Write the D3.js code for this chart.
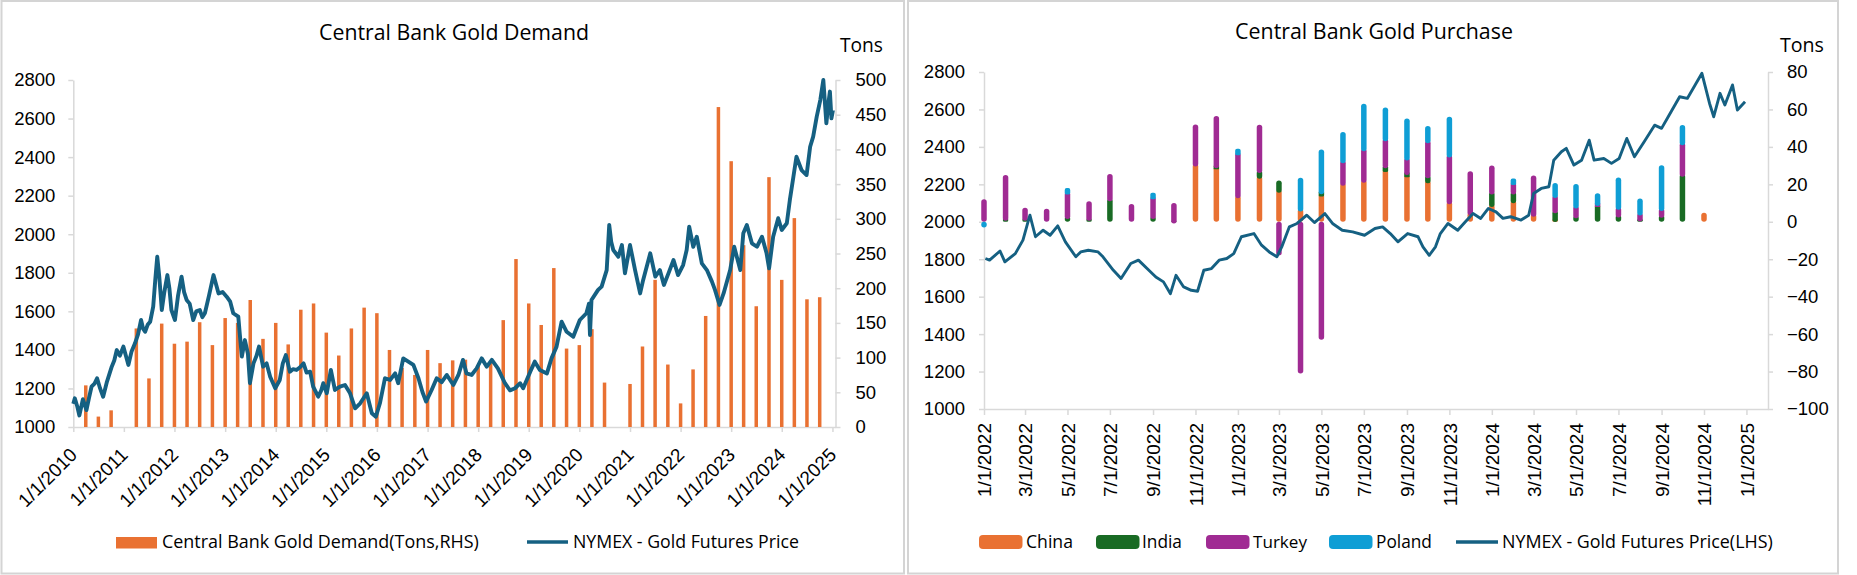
<!DOCTYPE html>
<html><head><meta charset="utf-8">
<script src="https://cdn.jsdelivr.net/npm/d3@7"></script>
<style>body{margin:0;background:#fff}svg{display:block}</style>
</head><body>
<svg id="c" width="1857" height="575"></svg>
<script>
// ---------------- DATA ----------------
// Left chart: quarterly central bank gold demand (tons), plotted at these dates
const demandDates = ["2010-04-01","2010-07-01","2010-10-01","2011-01-01","2011-04-01","2011-07-01","2011-10-01",
"2012-01-01","2012-04-01","2012-07-01","2012-10-01","2013-01-01","2013-04-01","2013-07-01","2013-10-01",
"2014-01-01","2014-04-01","2014-07-01","2014-10-01","2015-01-01","2015-04-01","2015-07-01","2015-10-01",
"2016-01-01","2016-04-01","2016-07-01","2016-10-01","2017-01-01","2017-04-01","2017-07-01","2017-10-01",
"2018-01-01","2018-04-01","2018-07-01","2018-10-01","2019-01-01","2019-04-01","2019-07-01","2019-10-01",
"2020-01-01","2020-04-01","2020-07-01","2020-10-01","2021-01-01","2021-04-01","2021-07-01","2021-10-01",
"2022-01-01","2022-04-01","2022-07-01","2022-10-01","2023-01-01","2023-04-01","2023-07-01","2023-10-01",
"2024-01-01","2024-04-01","2024-07-01","2024-10-01"];
const demandTons = [60,15,24,0,142,70,149,
120,123,151,118,157,150,183,127,
150,119,169,178,136,103,142,172,
164,111,85,75,111,92,96,97,
88,92,154,242,178,147,229,113,
118,141,64,0,62,116,212,90,
34,83,160,461,383,262,174,360,
212,301,184,187];

// Left chart: NYMEX gold futures price (decimal year, USD)
const priceYears1 = [2010.00,2010.03,2010.08,2010.12,2010.19,2010.26,2010.31,2010.36,2010.42,2010.47,2010.53,2010.59,2010.66,2010.76,2010.81,2010.86,2010.92,2010.99,
2011.04,2011.09,2011.15,2011.22,2011.28,2011.34,2011.38,2011.42,2011.47,2011.52,2011.58,2011.62,2011.66,2011.70,2011.75,2011.80,2011.86,2011.90,2011.94,
2012.01,2012.07,2012.14,2012.19,2012.24,2012.30,2012.37,2012.43,2012.50,2012.55,2012.60,2012.68,2012.77,2012.82,2012.87,2012.95,
2013.03,2013.10,2013.16,2013.26,2013.29,2013.33,2013.39,2013.45,2013.49,2013.56,2013.62,2013.67,2013.75,2013.82,2013.89,2013.99,
2014.08,2014.14,2014.20,2014.28,2014.34,2014.41,2014.48,2014.55,2014.61,2014.68,2014.74,2014.84,2014.90,2014.94,
2015.01,2015.09,2015.17,2015.27,2015.37,2015.47,2015.57,2015.67,2015.80,2015.90,2015.98,
2016.06,2016.16,2016.26,2016.36,2016.42,2016.52,2016.62,2016.72,2016.82,2016.90,2016.97,
2017.08,2017.18,2017.28,2017.38,2017.51,2017.61,2017.70,2017.77,2017.87,2017.97,
2018.07,2018.17,2018.27,2018.39,2018.53,2018.63,2018.73,2018.83,2018.89,
2019.03,2019.12,2019.22,2019.36,2019.45,2019.55,2019.65,2019.75,2019.88,
2020.01,2020.14,2020.19,2020.21,2020.24,2020.37,2020.44,2020.54,2020.59,2020.63,2020.67,2020.77,2020.84,2020.90,
2021.00,2021.10,2021.20,2021.26,2021.40,2021.50,2021.59,2021.67,2021.76,2021.86,2021.95,
2022.05,2022.12,2022.17,2022.25,2022.32,2022.42,2022.52,2022.62,2022.68,2022.77,2022.85,2022.98,
2023.06,2023.18,2023.24,2023.31,2023.41,2023.51,2023.61,2023.70,2023.75,2023.83,2023.93,
2024.00,2024.10,2024.16,2024.23,2024.29,2024.39,2024.49,2024.56,2024.62,2024.69,2024.76,2024.82,2024.88,2024.92,2024.95,2024.98,2025.01];
const priceValues1 = [1120,1149,1105,1060,1144,1088,1150,1209,1225,1253,1200,1157,1230,1313,1345,1399,1370,1417,
1370,1322,1390,1434,1480,1555,1510,1494,1530,1546,1624,1760,1883,1780,1607,1700,1788,1720,1607,
1555,1680,1780,1700,1659,1640,1555,1600,1607,1570,1590,1680,1788,1740,1693,1700,
1676,1650,1590,1572,1480,1365,1451,1380,1227,1330,1370,1417,1313,1330,1261,1201,
1244,1330,1373,1287,1300,1296,1310,1330,1282,1287,1209,1157,1190,1227,
1175,1296,1192,1209,1218,1175,1097,1123,1175,1071,1053,
1123,1253,1244,1278,1227,1356,1339,1322,1253,1180,1132,
1192,1253,1233,1270,1218,1270,1348,1278,1270,1304,
1356,1313,1348,1304,1227,1190,1201,1227,1201,
1287,1339,1296,1278,1356,1417,1546,1494,1468,
1555,1590,1640,1477,1659,1711,1728,1814,2048,1960,1918,1883,1944,1797,
1944,1814,1693,1763,1901,1780,1814,1737,1797,1866,1788,
1840,1918,2039,1935,1987,1849,1814,1754,1711,1633,1693,1814,
1935,1814,2005,2048,1953,1935,1987,1901,1823,1987,2083,
2022,2057,2178,2298,2402,2333,2307,2454,2506,2610,2696,2800,2575,2679,2740,2601,2644];

// Right chart: monthly central bank purchases (tons)
const purchaseMonths = ["2022-01-01","2022-02-01","2022-03-01","2022-04-01","2022-05-01","2022-06-01","2022-07-01","2022-08-01","2022-09-01","2022-10-01","2022-11-01","2022-12-01",
"2023-01-01","2023-02-01","2023-03-01","2023-04-01","2023-05-01","2023-06-01","2023-07-01","2023-08-01","2023-09-01","2023-10-01","2023-11-01","2023-12-01",
"2024-01-01","2024-02-01","2024-03-01","2024-04-01","2024-05-01","2024-06-01","2024-07-01","2024-08-01","2024-09-01","2024-10-01","2024-11-01"];
const china  = [0,0,0,0,0,0,0,0,0,0,31,29.5, 14,24.5,17,7,15,20.7,22.3,28,25.2,22,10.8,5, 9.3,11.3,4.2,1.3,0,0,0,0,0,0,4.8];
const india  = [0,2,2,0,3,2,12.5,0,3,0.5,0,0.5, 0,3,5,0,1.2,0,0,2,1.2,2.7,0,0, 6.8,4.8,0,4.7,3.3,9.4,3.7,1.6,3.6,25.5,0];
const turkey = [12,23,5.5,7,13,9,13,9.5,10.5,9.5,21,26.5, 23,24.3,-18,-81,-63,12,16.8,14.5,7.8,18.7,25,22, 14,5,20.5,8.2,5.3,0.5,4.2,3.2,3.6,16.9,0];
const poland = [-3,0,0,0,2,0,0,0,2,0,0,0, 2,0,0,16.5,22.4,15.2,24,16.5,21,7.8,20.3,0, 0,2,0,6.5,11.6,5.3,15.8,7.7,23,9.3,0];
const countries = ["China","India","Turkey","Poland"];

// Right chart: NYMEX gold futures price (LHS)
const priceDates2 = ["2022-01-03","2022-01-09","2022-01-24","2022-01-31","2022-02-15","2022-02-26","2022-03-08","2022-03-16","2022-03-27","2022-04-06","2022-04-17","2022-04-28",
"2022-05-13","2022-05-20","2022-05-31","2022-06-14","2022-06-21","2022-07-06","2022-07-17","2022-07-31","2022-08-11","2022-08-26","2022-09-05","2022-09-16","2022-09-26",
"2022-10-04","2022-10-15","2022-10-26","2022-11-04","2022-11-13","2022-11-24","2022-12-05","2022-12-16","2022-12-26",
"2023-01-06","2023-01-24","2023-02-04","2023-02-15","2023-02-26","2023-03-05","2023-03-16","2023-03-27","2023-04-10","2023-04-21","2023-05-06","2023-05-17","2023-05-31",
"2023-06-15","2023-07-02","2023-07-17","2023-07-28","2023-08-08","2023-08-19","2023-09-02","2023-09-17","2023-09-24","2023-10-03","2023-10-12","2023-10-19","2023-10-30",
"2023-11-13","2023-11-24","2023-12-05","2023-12-16","2023-12-27",
"2024-01-07","2024-01-17","2024-01-28","2024-02-12","2024-02-23","2024-03-01","2024-03-12","2024-03-23","2024-03-30","2024-04-10","2024-04-17","2024-04-28",
"2024-05-09","2024-05-20","2024-05-27","2024-06-10","2024-06-21","2024-07-02","2024-07-13","2024-07-24","2024-08-07","2024-08-22","2024-09-01","2024-09-12","2024-09-27",
"2024-10-08","2024-10-18","2024-10-29","2024-11-09","2024-11-15","2024-11-24","2024-12-01","2024-12-12","2024-12-19","2024-12-30"];
const priceValues2 = [1804,1795,1844,1786,1830,1902,2035,1920,1955,1928,1978,1893,
1813,1839,1848,1839,1813,1741,1697,1777,1795,1741,1705,1679,1616,
1714,1652,1634,1629,1741,1750,1795,1804,1830,
1920,1937,1875,1839,1813,1866,1973,1991,2035,1996,2044,1991,1955,
1946,1928,1964,1973,1937,1893,1937,1920,1866,1821,1866,1937,1991,
1955,2000,2044,2018,2071,
2053,2018,2027,2009,2035,2151,2178,2187,2329,2374,2392,2303,
2329,2436,2329,2338,2312,2338,2445,2347,2427,2516,2499,2570,2668,
2659,2722,2793,2632,2561,2686,2624,2731,2597,2641];

// Tick values
const priceTicks = [1000,1200,1400,1600,1800,2000,2200,2400,2600,2800];
const demandTicks = [0,50,100,150,200,250,300,350,400,450,500];
const purchaseTicks = [-100,-80,-60,-40,-20,0,20,40,60,80];
const yearTicks = d3.range(2010, 2026).map(y => new Date(y, 0, 1));
const monthTicks = d3.range(0, 19).map(i => new Date(2022, i * 2, 1));

// ---------------- STYLE ----------------
const C = { china:"#E97132", india:"#196B24", turkey:"#A02B93", poland:"#0F9ED5", line:"#156082", grid:"#d9d9d9", text:"#000" };
const countryColor = [C.china, C.india, C.turkey, C.poland];
const labelFont = "'Liberation Sans', Arial, sans-serif";
const uiFont = "'Open Sans', 'Noto Sans', sans-serif";

const parse = d3.timeParse("%Y-%m-%d");
const fmt = d => (d.getMonth() + 1) + "/" + d.getDate() + "/" + d.getFullYear();
function yearToDate(y) {
  const yr = Math.floor(y + 1e-9), s = new Date(yr, 0, 1), e = new Date(yr + 1, 0, 1);
  return new Date(+s + (y - yr) * (e - s));
}
const svg = d3.select("#c");

function fitText(sel, width) {
  sel.each(function () {
    const w = this.getComputedTextLength();
    const fs = parseFloat(this.getAttribute("font-size"));
    if (w > 0) this.setAttribute("font-size", (fs * width / w).toFixed(2));
  });
}
function txt(x, y, s, anchor, width, size) {
  const t = svg.append("text").attr("x", x).attr("y", y).attr("text-anchor", anchor || "start")
    .attr("font-family", uiFont).attr("font-size", size || 19).attr("fill", C.text).text(s);
  if (width) fitText(t, width);
  return t;
}
function styleAxis(g, size) {
  g.attr("font-family", null).attr("font-size", null);
  g.select(".domain").attr("stroke", C.grid).attr("stroke-width", 1.5);
  g.selectAll(".tick line").attr("stroke", C.grid).attr("stroke-width", 1.5);
  g.selectAll(".tick text").attr("fill", C.text).attr("font-family", labelFont).attr("font-size", size);
}

// panel frames
svg.append("rect").attr("x", 1.5).attr("y", 1).attr("width", 902.5).attr("height", 572.5)
  .attr("fill", "none").attr("stroke", "#d4d4d4").attr("stroke-width", 2);
svg.append("rect").attr("x", 908).attr("y", 1).attr("width", 930).attr("height", 572.5)
  .attr("fill", "none").attr("stroke", "#d4d4d4").attr("stroke-width", 2);

// ================= LEFT CHART =================
const xL = d3.scaleTime().domain([new Date(2010, 0, 1), new Date(2025, 0, 23)]).range([73.3, 835.5]);
const yLP = d3.scaleLinear().domain([1000, 2800]).range([427, 80]);
const yLT = d3.scaleLinear().domain([0, 500]).range([427, 80]);

const gLb = svg.append("g").attr("transform", "translate(0,427)")
  .call(d3.axisBottom(xL).tickValues(yearTicks).tickFormat(fmt).tickSize(5).tickSizeOuter(0));
styleAxis(gLb, 19);
gLb.selectAll(".tick text").attr("x", 0).attr("y", 0).attr("dy", 0).attr("text-anchor", "end")
  .attr("transform", "translate(4.5,29) rotate(-45)");

const gLl = svg.append("g").attr("transform", "translate(73.3,0)")
  .call(d3.axisLeft(yLP).tickValues(priceTicks).tickFormat(d3.format("d")).tickSize(5).tickSizeOuter(0).tickPadding(13));
styleAxis(gLl, 18.5);
const gLr = svg.append("g").attr("transform", "translate(835.5,0)")
  .call(d3.axisRight(yLT).tickValues(demandTicks).tickFormat(d3.format("d")).tickSize(5).tickSizeOuter(0).tickPadding(15));
styleAxis(gLr, 18.5);

// bars
const demandData = demandDates.map((d, i) => ({ date: parse(d), v: demandTons[i] })).filter(d => d.v > 0);
svg.append("g").selectAll("rect").data(demandData).join("rect")
  .attr("x", d => xL(d.date) - 1.75).attr("width", 3.5)
  .attr("y", d => yLT(d.v)).attr("height", d => yLT(0) - yLT(d.v))
  .attr("fill", C.china);

// price line
const line1 = priceYears1.map((y, i) => ({ date: yearToDate(y), v: priceValues1[i] }));
svg.append("path").datum(line1)
  .attr("d", d3.line().x(d => xL(d.date)).y(d => yLP(d.v)))
  .attr("fill", "none").attr("stroke", C.line).attr("stroke-width", 3.9).attr("stroke-linejoin", "round");

txt(454, 40, "Central Bank Gold Demand", "middle", 270, 21);
txt(840, 52, "Tons", "start", 43, 19);
// legend
svg.append("rect").attr("x", 116).attr("y", 537).attr("width", 41).attr("height", 11.5).attr("fill", C.china);
txt(162, 548, "Central Bank Gold Demand(Tons,RHS)", "start", 317, 19);
svg.append("line").attr("x1", 527).attr("x2", 568).attr("y1", 542).attr("y2", 542)
  .attr("stroke", C.line).attr("stroke-width", 3.5);
txt(573, 548, "NYMEX - Gold Futures Price", "start", 226, 19);

// ================= RIGHT CHART =================
const xR = d3.scaleTime().domain([new Date(2022, 0, 1), new Date(2025, 1, 1)]).range([984, 1768]);
const yRP = d3.scaleLinear().domain([1000, 2800]).range([409, 72]);
const yRT = d3.scaleLinear().domain([-100, 80]).range([409, 72]);

const gRb = svg.append("g").attr("transform", "translate(0,409)")
  .call(d3.axisBottom(xR).tickValues(monthTicks).tickFormat(fmt).tickSize(6).tickSizeOuter(0));
styleAxis(gRb, 19);
gRb.selectAll(".tick text").attr("x", 0).attr("y", 0).attr("dy", "0.35em").attr("text-anchor", "end")
  .attr("transform", "translate(0,14) rotate(-90)");

const gRl = svg.append("g").attr("transform", "translate(984,0)")
  .call(d3.axisLeft(yRP).tickValues(priceTicks).tickFormat(d3.format("d")).tickSize(5).tickSizeOuter(0).tickPadding(14));
styleAxis(gRl, 18.5);
const gRr = svg.append("g").attr("transform", "translate(1768,0)")
  .call(d3.axisRight(yRT).tickValues(purchaseTicks).tickFormat(d3.format("d")).tickSize(5).tickSizeOuter(0).tickPadding(14));
styleAxis(gRr, 18.5);

// stacked bars (diverging)
const table = purchaseMonths.map((m, i) => ({ date: parse(m), China: china[i], India: india[i], Turkey: turkey[i], Poland: poland[i] }));
const stack = d3.stack().keys(countries).offset(d3.stackOffsetDiverging)(table);
const bw = 5.5, r = bw / 2;
const gBars = svg.append("g");
stack.forEach((layer, k) => {
  gBars.append("g").attr("fill", countryColor[k]).selectAll("rect")
    .data(layer.filter(s => Math.abs(s[1] - s[0]) > 0.01)).join("rect")
    .attr("x", s => xR(s.data.date) - r).attr("width", bw)
    .attr("y", s => {
      const top = Math.min(yRT(s[0]), yRT(s[1]));
      // negative segments below another negative segment overlap upward
      return (s[1] < 0) ? top - r : top;
    })
    .attr("height", s => {
      const h = Math.abs(yRT(s[0]) - yRT(s[1]));
      const base = s[0] >= 0 ? s[0] : s[1];
      return base !== 0 ? h + r : h;
    })
    .attr("rx", s => Math.min(r, Math.abs(yRT(s[0]) - yRT(s[1])) / 2))
    .attr("ry", s => Math.min(r, Math.abs(yRT(s[0]) - yRT(s[1])) / 2));
});

const line2 = priceDates2.map((d, i) => ({ date: parse(d), v: priceValues2[i] }));
svg.append("path").datum(line2)
  .attr("d", d3.line().x(d => xR(d.date)).y(d => yRP(d.v)))
  .attr("fill", "none").attr("stroke", C.line).attr("stroke-width", 2.9).attr("stroke-linejoin", "round");

txt(1374, 39, "Central Bank Gold Purchase", "middle", 278, 21);
txt(1780, 52, "Tons", "start", 44, 19);

// legend
const legR = [
  { x: 979, tx: 1026, w: 47 },
  { x: 1096, tx: 1142, w: 40 },
  { x: 1206, tx: 1253, w: 54 },
  { x: 1329, tx: 1376, w: 56 }
];
countries.forEach((c, k) => {
  svg.append("rect").attr("x", legR[k].x).attr("y", 535).attr("width", 43.5).attr("height", 14)
    .attr("rx", 4).attr("fill", countryColor[k]);
  txt(legR[k].tx, 548, c, "start", legR[k].w, 19);
});
svg.append("line").attr("x1", 1456).attr("x2", 1498).attr("y1", 542).attr("y2", 542)
  .attr("stroke", C.line).attr("stroke-width", 3.5);
txt(1502, 548, "NYMEX - Gold Futures Price(LHS)", "start", 271, 19);
</script>
</body></html>
